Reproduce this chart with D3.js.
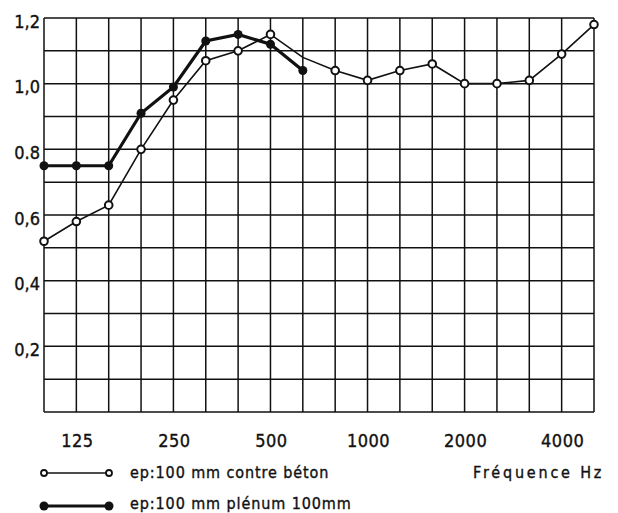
<!DOCTYPE html>
<html>
<head>
<meta charset="utf-8">
<script src="https://cdn.jsdelivr.net/npm/d3@7"></script>
<style>
  body { margin: 0; background: #fff; }
  text { font-family: "DejaVu Sans Condensed", "DejaVu Sans", sans-serif; font-stretch: condensed;
         fill: #111; stroke: #111; stroke-width: 0.35px; }
</style>
</head>
<body>
<svg id="chart" width="618" height="513"></svg>
<script>
// third-octave bands, one grid line each
var freqs = [100, 125, 160, 200, 250, 315, 400, 500, 630, 800, 1000, 1250, 1600, 2000, 2500, 3150, 4000, 5000];
var freqLabels = [125, 250, 500, 1000, 2000, 4000];
var beton = [0.52, 0.58, 0.63, 0.80, 0.95, 1.07, 1.10, 1.15, 1.08, 1.04, 1.01, 1.04, 1.06, 1.00, 1.00, 1.01, 1.09, 1.18];
var betonNoMark = [630];   // no circle drawn there on the original
var plenum = [0.75, 0.75, 0.75, 0.91, 0.99, 1.13, 1.15, 1.12, 1.04];
var yGrid = [0, 0.1, 0.2, 0.3, 0.4, 0.5, 0.6, 0.7, 0.8, 0.9, 1.0, 1.1, 1.2];
var yTicks = [0.2, 0.4, 0.6, 0.8, 1.0, 1.2];
var yTickLabels = ["0,2", "0,4", "0,6", "0.8", "1,0", "1,2"];
var legendLabels = ["ep:100 mm contre béton", "ep:100 mm plénum 100mm"];
var xTitle = "Fréquence Hz";

var svg = d3.select("#chart");
var plotL = 44, plotR = 594, plotT = 18, plotB = 412;

var x = d3.scalePoint().domain(freqs).range([plotL, plotR]);
var y = d3.scaleLinear().domain([0, 1.2]).range([plotB, plotT]);

// grid
var grid = svg.append("g").attr("stroke", "#111").attr("stroke-width", 1.5);
grid.selectAll("line.v").data(freqs).enter().append("line")
    .attr("class", "v")
    .attr("x1", function(d) { return x(d); }).attr("x2", function(d) { return x(d); })
    .attr("y1", plotT).attr("y2", plotB);
grid.selectAll("line.h").data(yGrid).enter().append("line")
    .attr("class", "h")
    .attr("x1", plotL).attr("x2", plotR)
    .attr("y1", function(d) { return y(d); }).attr("y2", function(d) { return y(d); });

// y labels
svg.append("g").selectAll("text").data(yTicks).enter().append("text")
    .attr("x", 40).attr("y", function(d) { return y(d) + 3; })
    .attr("text-anchor", "end").attr("dominant-baseline", "central")
    .style("font-size", "18px")
    .text(function(d, i) { return yTickLabels[i]; });

// x labels
svg.append("g").selectAll("text").data(freqLabels).enter().append("text")
    .attr("x", function(d) { return x(d) + 1; }).attr("y", 440)
    .attr("text-anchor", "middle").attr("dominant-baseline", "central")
    .style("font-size", "18px").style("letter-spacing", "0.5px")
    .text(function(d) { return d; });

var line = d3.line()
    .x(function(d, i) { return x(freqs[i]); })
    .y(function(d) { return y(d); });

// plenum series (thick, filled dots)
svg.append("path").datum(plenum)
    .attr("d", line).attr("fill", "none").attr("stroke", "#111").attr("stroke-width", 3.2);
svg.append("g").selectAll("circle").data(plenum).enter().append("circle")
    .attr("cx", function(d, i) { return x(freqs[i]); })
    .attr("cy", function(d) { return y(d); })
    .attr("r", 4.5).attr("fill", "#111");

// beton series (thin, open circles)
svg.append("path").datum(beton)
    .attr("d", line).attr("fill", "none").attr("stroke", "#111").attr("stroke-width", 1.6);
svg.append("g").selectAll("circle")
    .data(beton.map(function(v, i) { return {f: freqs[i], v: v}; })
        .filter(function(d) { return betonNoMark.indexOf(d.f) < 0; }))
    .enter().append("circle")
    .attr("cx", function(d) { return x(d.f); })
    .attr("cy", function(d) { return y(d.v); })
    .attr("r", 3.8).attr("fill", "#fff").attr("stroke", "#111").attr("stroke-width", 2);

// legend
var lg = svg.append("g");
[473, 506].forEach(function(ly, i) {
    lg.append("line").attr("x1", 44).attr("x2", 109).attr("y1", ly).attr("y2", ly)
        .attr("stroke", "#111").attr("stroke-width", i === 0 ? 1.6 : 3.2);
    [44, 109].forEach(function(cx) {
        if (i === 0) {
            lg.append("circle").attr("cx", cx).attr("cy", ly).attr("r", 3)
                .attr("fill", "#fff").attr("stroke", "#111").attr("stroke-width", 1.8);
        } else {
            lg.append("circle").attr("cx", cx).attr("cy", ly).attr("r", 4.5).attr("fill", "#111");
        }
    });
    lg.append("text").attr("x", 130).attr("y", ly + (i === 0 ? 5 : 3))
        .style("font-size", "16px").style("letter-spacing", "0.9px")
        .text(legendLabels[i]);
});

svg.append("text").attr("x", 473).attr("y", 478)
    .style("font-size", "16px").style("letter-spacing", "2.8px")
    .text(xTitle);
</script>
</body>
</html>
